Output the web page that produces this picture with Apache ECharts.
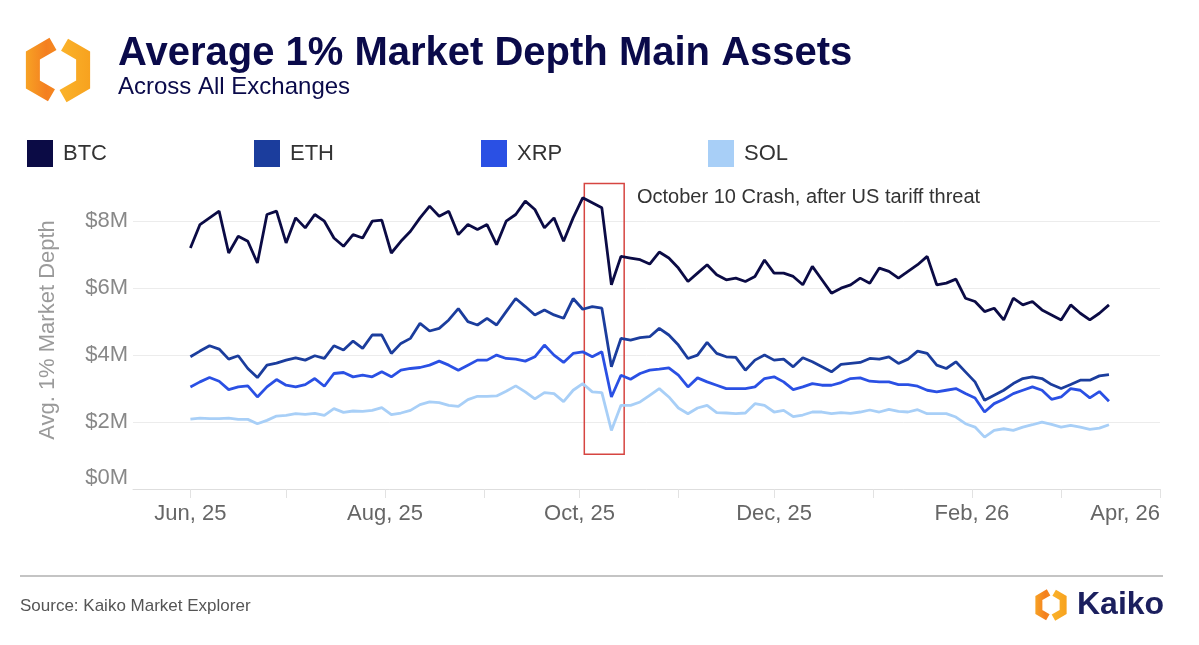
<!DOCTYPE html>
<html style="height: 100%">
<head>
    <meta charset="utf-8">
</head>
<body style="height: 100%; margin: 0; background: #ffffff">
<div id="container" style="width: 1199px; height: 645px;"></div>

<script type="text/javascript" src="https://cdn.jsdelivr.net/npm/echarts@6/dist/echarts.min.js"></script>
<script type="text/javascript">
    // one reading every 3 days, starting 1 Jun 2025 (values in $M)
    var startDate = '2025-06-01';
    var stepDays = 3;

    var btc = [7.2, 7.9, 8.1, 8.3, 7.05, 7.55, 7.4, 6.75, 8.2, 8.3,
        7.35, 8.1, 7.8, 8.2, 8.0, 7.5, 7.25, 7.6, 7.5, 8.0,
        8.03, 7.05, 7.4, 7.7, 8.1, 8.45, 8.15, 8.3, 7.6, 7.9,
        7.75, 7.9, 7.3, 8.0, 8.2, 8.6, 8.35, 7.8, 8.1, 7.4,
        8.1, 8.7, 8.55, 8.4, 6.1, 6.95, 6.9, 6.85, 6.72, 7.08,
        6.9, 6.6, 6.2, 6.45, 6.7, 6.4, 6.25, 6.3, 6.2, 6.35,
        6.84, 6.45, 6.45, 6.35, 6.1, 6.65, 6.25, 5.85, 6.0, 6.1,
        6.3, 6.15, 6.6, 6.5, 6.3, 6.5, 6.7, 6.95, 6.1, 6.15,
        6.27, 5.7, 5.6, 5.3, 5.4, 5.05, 5.7, 5.5, 5.6, 5.35,
        5.2, 5.05, 5.5, 5.25, 5.05, 5.25, 5.5];

    var eth = [3.95, 4.12, 4.28, 4.18, 3.88, 3.98, 3.6, 3.33, 3.7, 3.76,
        3.85, 3.92, 3.85, 3.98, 3.9, 4.28, 4.15, 4.42, 4.2, 4.6,
        4.6, 4.05, 4.35, 4.5, 4.95, 4.72, 4.8, 5.05, 5.39, 5.0,
        4.9, 5.1, 4.9, 5.3, 5.69, 5.45, 5.2, 5.35, 5.2, 5.1,
        5.69, 5.37, 5.45, 5.4, 3.65, 4.5, 4.45, 4.52, 4.55, 4.8,
        4.6, 4.3, 3.9, 4.0, 4.38, 4.05, 3.95, 3.93, 3.55, 3.85,
        4.0, 3.85, 3.88, 3.65, 3.92, 3.8, 3.65, 3.5, 3.72, 3.75,
        3.78, 3.9, 3.88, 3.95, 3.75, 3.88, 4.12, 4.05, 3.7, 3.6,
        3.8, 3.5, 3.2, 2.65, 2.8, 2.95, 3.15, 3.3, 3.35, 3.3,
        3.12, 3.0, 3.12, 3.25, 3.25, 3.38, 3.42];

    var xrp = [3.05, 3.2, 3.33, 3.22, 2.97, 3.05, 3.08, 2.75, 3.05, 3.27,
        3.1, 3.05, 3.12, 3.3, 3.07, 3.45, 3.48, 3.35, 3.4, 3.35,
        3.5, 3.35, 3.55, 3.6, 3.63, 3.7, 3.82, 3.7, 3.55, 3.7,
        3.85, 3.85, 4.0, 3.9, 3.88, 3.82, 3.95, 4.3, 4.0, 3.78,
        4.05, 4.1, 3.95, 4.1, 2.75, 3.4, 3.28, 3.45, 3.55, 3.58,
        3.62, 3.4, 3.05, 3.32, 3.2, 3.1, 3.0, 3.0, 3.0, 3.05,
        3.3, 3.35, 3.2, 2.97, 3.05, 3.15, 3.1, 3.1, 3.18, 3.3,
        3.32, 3.22, 3.2, 3.2, 3.12, 3.12, 3.07, 2.95, 2.9, 2.95,
        3.0, 2.85, 2.72, 2.3, 2.55, 2.68, 2.85, 2.95, 3.05, 2.95,
        2.68, 2.75, 3.0, 2.95, 2.72, 2.91, 2.62];

    var sol = [2.09, 2.12, 2.1, 2.1, 2.12, 2.08, 2.08, 1.95, 2.05, 2.18,
        2.2, 2.25, 2.23, 2.26, 2.2, 2.4, 2.29, 2.33, 2.32, 2.35,
        2.43, 2.22, 2.27, 2.35, 2.52, 2.6, 2.58, 2.5, 2.47, 2.67,
        2.77, 2.77, 2.78, 2.92, 3.08, 2.9, 2.69, 2.88, 2.85, 2.61,
        2.95, 3.15, 2.9, 2.88, 1.75, 2.5, 2.5, 2.6, 2.8, 3.0,
        2.75, 2.42, 2.25, 2.42, 2.5, 2.28, 2.27, 2.25, 2.27, 2.55,
        2.5, 2.3, 2.35, 2.16, 2.21, 2.3, 2.3, 2.25, 2.28, 2.26,
        2.3, 2.36, 2.3, 2.38, 2.32, 2.3, 2.37, 2.25, 2.25, 2.25,
        2.15, 1.95, 1.85, 1.55, 1.75, 1.8, 1.75, 1.85, 1.92, 2.0,
        1.93, 1.85, 1.9, 1.85, 1.78, 1.82, 1.92];

    var assets = ['BTC', 'ETH', 'XRP', 'SOL'];
    var assetValues = [btc, eth, xrp, sol];
    var assetColors = ['#0b0b45', '#1b3d9d', '#2a50e4', '#a8cff7'];
    var monthNames = ['Jan', 'Feb', 'Mar', 'Apr', 'May', 'Jun', 'Jul', 'Aug', 'Sep', 'Oct', 'Nov', 'Dec'];

    var DAY = 86400000;
    var font = '"Liberation Sans", Arial, Helvetica, sans-serif';

    var dates = [];
    var t0 = new Date(startDate + 'T00:00:00').getTime();
    for (var i = 0; i < btc.length; i++) {
        dates.push(t0 + i * stepDays * DAY);
    }

    // red box around the October 10 crash
    var crashFrom = new Date('2025-10-02T12:00:00').getTime();
    var crashTo = new Date('2025-10-15T00:00:00').getTime();

    function kaikoIcon(cx, cy, r, lw) {
        var k = Math.cos(Math.PI / 6);
        var top = [cx, cy - r], ul = [cx - r * k, cy - r / 2], ll = [cx - r * k, cy + r / 2];
        var bot = [cx, cy + r], lr = [cx + r * k, cy + r / 2], ur = [cx + r * k, cy - r / 2];
        function along(a, b, f) { return [a[0] + (b[0] - a[0]) * f, a[1] + (b[1] - a[1]) * f]; }
        return [{
            type: 'polyline',
            shape: { points: [along(top, ul, 0.2), ul, ll, along(ll, bot, 0.74)] },
            style: {
                fill: null, lineWidth: lw, lineJoin: 'miter',
                stroke: new echarts.graphic.LinearGradient(0, 0, 1, 0, [
                    { offset: 0, color: '#f7a224' }, { offset: 0.6, color: '#f47f20' }, { offset: 1, color: '#f68c1f' }
                ])
            }
        }, {
            type: 'polyline',
            shape: { points: [along(top, ur, 0.26), ur, lr, along(lr, bot, 0.8)] },
            style: {
                fill: null, lineWidth: lw, lineJoin: 'miter',
                stroke: new echarts.graphic.LinearGradient(0, 0, 1, 0, [
                    { offset: 0, color: '#fbb52c' }, { offset: 1, color: '#f7a21f' }
                ])
            }
        }];
    }

    var dom = document.getElementById('container');
    var myChart = echarts.init(dom, null, { renderer: 'canvas' });

    var option = {
        animation: false,
        backgroundColor: '#ffffff',
        textStyle: { fontFamily: font },
        grid: { left: 133, right: 39, top: 171, bottom: 156, containLabel: false, outerBoundsMode: 'none' },
        legend: assets.map(function (name, i) {
            return {
                data: [name],
                left: 27 + i * 227,
                top: 140,
                padding: 0,
                icon: 'rect',
                itemWidth: 26,
                itemHeight: 27,
                itemGap: 0,
                selectedMode: false,
                textStyle: { fontSize: 22, color: '#333333', fontFamily: font, padding: [0, 0, 0, 5] }
            };
        }),
        xAxis: {
            type: 'time',
            min: new Date('2025-05-14T00:00:00').getTime(),
            max: new Date('2026-04-01T00:00:00').getTime(),
            minInterval: 28 * DAY,
            maxInterval: 31 * DAY,
            splitLine: { show: false },
            axisLine: { show: true, lineStyle: { color: '#dedede', width: 1 } },
            axisTick: { show: true, length: 9, lineStyle: { color: '#e2e2e2' } },
            axisLabel: {
                fontSize: 22,
                color: '#666666',
                fontFamily: font,
                margin: 14,
                showMaxLabel: true,
                alignMaxLabel: 'right',
                hideOverlap: false,
                formatter: function (value) {
                    var d = new Date(value);
                    if (d.getDate() !== 1 || d.getMonth() % 2 !== 1) return '';
                    return monthNames[d.getMonth()] + ', ' + String(d.getFullYear()).slice(2);
                }
            }
        },
        yAxis: {
            type: 'value',
            min: 0,
            max: 9.5,
            interval: 2,
            name: 'Avg. 1% Market Depth',
            nameLocation: 'middle',
            nameGap: 74,
            nameTextStyle: { fontSize: 22, color: '#9a9a9a', fontFamily: font },
            axisLine: { show: false },
            axisTick: { show: false },
            axisLabel: {
                fontSize: 22,
                color: '#888888',
                fontFamily: font,
                margin: 5,
                showMaxLabel: false,
                formatter: function (v) { return v === 0 ? '{z|$0M}' : '$' + v + 'M'; },
                rich: { z: { fontSize: 22, color: '#888888', fontFamily: font, padding: [0, 0, 22, 0] } }
            },
            splitLine: { show: true, showMaxLine: false, lineStyle: { color: '#ececec', width: 1 } }
        },
        series: assets.map(function (name, i) {
            var s = {
                name: name,
                type: 'line',
                showSymbol: false,
                silent: true,
                z: 10 - i,
                itemStyle: { color: assetColors[i] },
                lineStyle: { color: assetColors[i], width: 2.8 },
                data: dates.map(function (t, j) { return [t, assetValues[i][j]]; })
            };
            if (i === 0) {
                s.markArea = {
                    silent: true,
                    itemStyle: { color: 'rgba(0,0,0,0)', borderColor: '#d64541', borderWidth: 1.5 },
                    data: [[{ xAxis: crashFrom, yAxis: 9.13 }, { xAxis: crashTo, yAxis: 1.04 }]]
                };
            }
            return s;
        }),
        graphic: [
            {
                type: 'text', left: 118, top: 34,
                style: { text: 'Average 1% Market Depth Main Assets', font: 'bold 40px ' + font, fill: '#0a0a4a' }
            },
            {
                type: 'text', left: 118, top: 75,
                style: { text: 'Across All Exchanges', font: '24px ' + font, fill: '#0a0a4a' }
            },
            {
                type: 'text', left: 637, top: 187,
                style: { text: 'October 10 Crash, after US tariff threat', font: '20px ' + font, fill: '#333333' }
            },
            {
                type: 'line',
                shape: { x1: 20, y1: 576, x2: 1163, y2: 576 },
                style: { stroke: '#c4c4c4', lineWidth: 2 }
            },
            {
                type: 'text', left: 20, top: 598,
                style: { text: 'Source: Kaiko Market Explorer', font: '17px ' + font, fill: '#555555' }
            },
            {
                type: 'text', left: 1077, top: 589,
                style: { text: 'Kaiko', font: 'bold 32px ' + font, fill: '#1b1f5e' }
            }
        ].concat(kaikoIcon(58, 70, 29, 14)).concat(kaikoIcon(1051, 605, 14, 7))
    };

    myChart.setOption(option);
</script>
</body>
</html>
